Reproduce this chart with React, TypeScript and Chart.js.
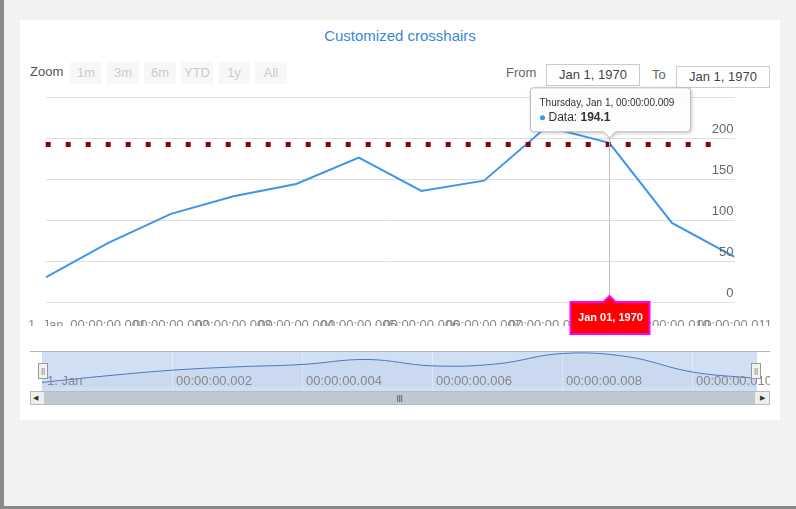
import React, { useEffect, useRef } from "react";
import { Chart, registerables } from "chart.js";
Chart.register(...registerables);

const xValues = [0, 1, 2, 3, 4, 5, 6, 7, 8, 9, 10, 11];
const dataValues = [30, 72, 107.5, 129, 144, 176, 135.5, 148, 213.7, 194.1, 96.5, 55];
const yTicks = [0, 50, 100, 150, 200, 250];
const xTickLabels = ["1. Jan", "00:00:00.001", "00:00:00.002", "00:00:00.003", "00:00:00.004", "00:00:00.005", "00:00:00.006", "00:00:00.007", "00:00:00.008", "00:00:00.009", "00:00:00.010", "00:00:00.011"];
const navTicks = [0, 2, 4, 6, 8, 10];
const navLabels = ["1. Jan", "00:00:00.002", "00:00:00.004", "00:00:00.006", "00:00:00.008", "00:00:00.010"];
const plotLineValue = 192;
const hoverIndex = 9;
const FONT = "Arial, 'Liberation Sans', sans-serif";

const mainPlugin = {
  id: "mainDeco",
  afterDatasetsDraw(chart: any) {
    const ctx = chart.ctx;
    const x = chart.scales.x, y = chart.scales.y;
    const area = chart.chartArea;
    ctx.save();
    ctx.font = "13px " + FONT;
    ctx.fillStyle = "#666";
    ctx.textAlign = "right";
    ctx.textBaseline = "middle";
    yTicks.slice(0, 5).forEach((v) => {
      ctx.fillText(String(v), area.right - 1, y.getPixelForValue(v) - 9);
    });
    const py = y.getPixelForValue(plotLineValue);
    ctx.strokeStyle = "#8b0000";
    ctx.lineWidth = 5;
    ctx.setLineDash([5, 15]);
    ctx.beginPath();
    ctx.moveTo(area.left, py);
    ctx.lineTo(area.right - 15, py);
    ctx.stroke();
    ctx.setLineDash([]);
    const hx = Math.round(x.getPixelForValue(xValues[hoverIndex])) + 0.5;
    const hy = y.getPixelForValue(dataValues[hoverIndex]);
    ctx.strokeStyle = "#c0c0c0";
    ctx.lineWidth = 1;
    ctx.beginPath();
    ctx.moveTo(hx, area.top);
    ctx.lineTo(hx, area.bottom);
    ctx.stroke();
    const lx = hx - 39, ly = area.bottom, lw = 79, lh = 32;
    ctx.fillStyle = "#ff0000";
    ctx.strokeStyle = "#ff00ff";
    ctx.lineWidth = 2;
    ctx.beginPath();
    ctx.moveTo(lx, ly);
    ctx.lineTo(hx - 6, ly);
    ctx.lineTo(hx, ly - 6);
    ctx.lineTo(hx + 6, ly);
    ctx.lineTo(lx + lw, ly);
    ctx.lineTo(lx + lw, ly + lh);
    ctx.lineTo(lx, ly + lh);
    ctx.closePath();
    ctx.fill();
    ctx.stroke();
    ctx.fillStyle = "#fff";
    ctx.font = "bold 11px " + FONT;
    ctx.textAlign = "center";
    ctx.fillText("Jan 01, 1970", hx + 1, ly + lh / 2);
    const tw = 160, th = 44;
    const tx = hx - 79, tyTop = hy - 11 - th;
    ctx.shadowColor = "rgba(0,0,0,0.25)";
    ctx.shadowBlur = 4;
    ctx.shadowOffsetX = 1;
    ctx.shadowOffsetY = 1;
    ctx.fillStyle = "rgba(255,255,255,0.97)";
    ctx.strokeStyle = "#bbb";
    ctx.lineWidth = 1;
    ctx.beginPath();
    ctx.moveTo(tx + 3, tyTop);
    ctx.lineTo(tx + tw - 3, tyTop);
    ctx.quadraticCurveTo(tx + tw, tyTop, tx + tw, tyTop + 3);
    ctx.lineTo(tx + tw, tyTop + th - 3);
    ctx.quadraticCurveTo(tx + tw, tyTop + th, tx + tw - 3, tyTop + th);
    ctx.lineTo(hx + 6, tyTop + th);
    ctx.lineTo(hx, tyTop + th + 6);
    ctx.lineTo(hx - 6, tyTop + th);
    ctx.lineTo(tx + 3, tyTop + th);
    ctx.quadraticCurveTo(tx, tyTop + th, tx, tyTop + th - 3);
    ctx.lineTo(tx, tyTop + 3);
    ctx.quadraticCurveTo(tx, tyTop, tx + 3, tyTop);
    ctx.closePath();
    ctx.fill();
    ctx.shadowColor = "transparent";
    ctx.stroke();
    ctx.textAlign = "left";
    ctx.fillStyle = "#333";
    ctx.font = "10px " + FONT;
    ctx.fillText("Thursday, Jan 1, 00:00:00.009", tx + 9, tyTop + 15);
    ctx.fillStyle = "#3d96e8";
    ctx.beginPath();
    ctx.arc(tx + 12, tyTop + 30, 2.5, 0, Math.PI * 2);
    ctx.fill();
    ctx.fillStyle = "#333";
    ctx.font = "12px " + FONT;
    ctx.fillText("Data: ", tx + 18, tyTop + 30);
    const w = ctx.measureText("Data: ").width;
    ctx.font = "bold 12px " + FONT;
    ctx.fillText(String(dataValues[hoverIndex]), tx + 18 + w, tyTop + 30);
    ctx.restore();
  },
};

const navPlugin = {
  id: "navDeco",
  beforeDatasetsDraw(chart: any) {
    const ctx = chart.ctx;
    const x = chart.scales.x;
    const a = chart.chartArea;
    const x0 = x.getPixelForValue(0), x1 = x.getPixelForValue(11);
    ctx.save();
    ctx.fillStyle = "rgba(102,150,220,0.3)";
    ctx.fillRect(x0, a.top, x1 - x0, a.bottom - a.top);
    ctx.strokeStyle = "rgba(255,255,255,0.35)";
    ctx.lineWidth = 1;
    navTicks.forEach((v, i) => {
      if (i === 0) return;
      const px = Math.round(x.getPixelForValue(v)) + 0.5;
      ctx.beginPath();
      ctx.moveTo(px, a.top);
      ctx.lineTo(px, a.bottom);
      ctx.stroke();
    });
    ctx.restore();
  },
  afterDatasetsDraw(chart: any) {
    const ctx = chart.ctx;
    const x = chart.scales.x;
    const a = chart.chartArea;
    ctx.save();
    ctx.font = "13px " + FONT;
    ctx.fillStyle = "#888";
    ctx.textBaseline = "middle";
    navTicks.forEach((v, i) => {
      ctx.fillText(navLabels[i], x.getPixelForValue(v) + (i === 0 ? 5 : 4), a.bottom - 10);
    });
    ctx.restore();
  },
};

export default function App() {
  const mainRef = useRef<HTMLCanvasElement>(null);
  const navRef = useRef<HTMLCanvasElement>(null);
  useEffect(() => {
    const pts = xValues.map((x, i) => ({ x, y: dataValues[i] }));
    const main = new Chart(mainRef.current!, {
      type: "line",
      data: { datasets: [{ data: pts, borderColor: "#3d96e8", borderWidth: 2, pointRadius: 0, tension: 0, fill: false }] },
      options: {
        animation: false,
        responsive: false,
        events: [],
        layout: { autoPadding: false, padding: { left: 10, right: 10, top: 77, bottom: 14 } },
        plugins: { legend: { display: false }, tooltip: { enabled: false } },
        scales: {
          x: {
            type: "linear", min: 0, max: 11,
            grid: { display: false },
            border: { display: false },
            afterBuildTicks: (s: any) => { s.ticks = xValues.map((v) => ({ value: v })); },
            afterFit: (s: any) => { s.height = 24; },
            ticks: {
              autoSkip: false, maxRotation: 0, padding: 8, color: "#888",
              font: { size: 13, family: FONT },
              callback: (v: any) => xTickLabels[Math.round(Number(v))],
            },
          },
          y: {
            position: "right", min: 0, max: 250,
            afterBuildTicks: (s: any) => { s.ticks = yTicks.map((v) => ({ value: v })); },
            afterFit: (s: any) => { s.width = 0; },
            grid: { color: "#e0e0e0", drawTicks: false },
            border: { display: false },
            ticks: { display: false },
          },
        },
      },
      plugins: [mainPlugin],
    });
    const nav = new Chart(navRef.current!, {
      type: "line",
      data: { datasets: [{ data: pts, borderColor: "#4d78b8", borderWidth: 1, pointRadius: 0, tension: 0.4, fill: true, backgroundColor: "rgba(69,114,167,0.05)" }] },
      options: {
        animation: false,
        responsive: false,
        events: [],
        layout: { autoPadding: false, padding: 0 },
        plugins: { legend: { display: false }, tooltip: { enabled: false } },
        scales: {
          x: { type: "linear", min: -12 / 65, max: 11 + 13 / 65, display: false },
          y: { min: -25, max: 230, display: false },
        },
      },
      plugins: [navPlugin],
    });
    return () => { main.destroy(); nav.destroy(); };
  }, []);

  const btn = (t: string, left: number, w: number) => (
    <div key={t} style={{ position: "absolute", left, top: 62, width: w, height: 22, background: "#f7f7f7", color: "#ccc", fontSize: 13, lineHeight: "22px", textAlign: "center" }}>{t}</div>
  );
  const input = (left: number, top: number) => (
    <div style={{ position: "absolute", left, top, width: 92, height: 20, border: "1px solid #ccc", fontSize: 13, lineHeight: "20px", textAlign: "center", color: "#444", background: "#fff" }}>Jan 1, 1970</div>
  );
  return (
    <div style={{ position: "fixed", left: 0, top: 0, width: 796, height: 509, background: "#f2f2f2", fontFamily: FONT, overflow: "hidden" }}>
      <div style={{ position: "absolute", left: 0, top: 0, width: 4, height: 509, background: "#8a8a8a" }} />
      <div style={{ position: "absolute", left: 0, top: 506, width: 796, height: 3, background: "#8a8a8a" }} />
      <div style={{ position: "absolute", left: 20, top: 20, width: 760, height: 400, background: "#fff" }} />
      <div style={{ position: "absolute", left: 20, top: 27, width: 760, textAlign: "center", color: "#3b87d8", fontSize: 15 }}>Customized crosshairs</div>
      <div style={{ position: "absolute", left: 30, top: 64, color: "#555", fontSize: 13 }}>Zoom</div>
      {btn("1m", 70, 32)}{btn("3m", 107, 32)}{btn("6m", 144, 32)}{btn("YTD", 181, 32)}{btn("1y", 218, 32)}{btn("All", 255, 32)}
      <div style={{ position: "absolute", left: 506, top: 65, color: "#666", fontSize: 13 }}>From</div>
      {input(546, 64)}
      <div style={{ position: "absolute", left: 652, top: 67, color: "#666", fontSize: 13 }}>To</div>
      {input(676, 66)}
      <canvas ref={mainRef} width={760} height={320} style={{ position: "absolute", left: 20, top: 20, width: 760, height: 320 }} />
      <canvas ref={navRef} width={740} height={40} style={{ position: "absolute", left: 30, top: 351, width: 740, height: 40 }} />
      <div style={{ position: "absolute", left: 30, top: 351, width: 740, height: 1, background: "#b2b1b6" }} />
      <div style={{ position: "absolute", left: 38, top: 363, width: 8, height: 14, background: "#f2f2f2", border: "1px solid #999", fontSize: 8, lineHeight: "14px", textAlign: "center", color: "#666" }}>||</div>
      <div style={{ position: "absolute", left: 751, top: 363, width: 8, height: 14, background: "#f2f2f2", border: "1px solid #999", fontSize: 8, lineHeight: "14px", textAlign: "center", color: "#666" }}>||</div>
      <div style={{ position: "absolute", left: 30, top: 391, width: 738, height: 12, background: "#eee", border: "1px solid #bbb" }} />
      <div style={{ position: "absolute", left: 44, top: 392, width: 711, height: 12, background: "#bfc8d1", fontSize: 8, lineHeight: "12px", textAlign: "center", color: "#333" }}>|||</div>
      <div style={{ position: "absolute", left: 33, top: 392, fontSize: 7, lineHeight: "12px", color: "#333" }}>◀</div>
      <div style={{ position: "absolute", left: 760, top: 392, fontSize: 7, lineHeight: "12px", color: "#333" }}>▶</div>
    </div>
  );
}
